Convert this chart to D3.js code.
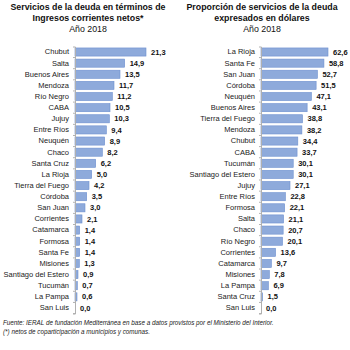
<!DOCTYPE html>
<html>
<head>
<meta charset="utf-8">
<script src="https://cdn.jsdelivr.net/npm/d3@7"></script>
<style>
  body { margin: 0; background: #fff; }
  svg { display: block; font-family: "Liberation Sans", Arial, sans-serif; }
</style>
</head>
<body>
<svg id="chart" width="350" height="350"></svg>
<script>
// left panel: servicios de la deuda / ingresos corrientes netos
const leftCategories = ["Chubut", "Salta", "Buenos Aires", "Mendoza", "Río Negro", "CABA", "Jujuy",
  "Entre Ríos", "Neuquén", "Chaco", "Santa Cruz", "La Rioja", "Tierra del Fuego", "Córdoba",
  "San Juan", "Corrientes", "Catamarca", "Formosa", "Santa Fe", "Misiones", "Santiago del Estero",
  "Tucumán", "La Pampa", "San Luis"];
const leftValues = [21.3, 14.9, 13.5, 11.7, 11.2, 10.5, 10.3, 9.4, 8.9, 8.2, 6.2, 5.0, 4.2, 3.5,
  3.0, 2.1, 1.4, 1.4, 1.4, 1.3, 0.9, 0.7, 0.6, 0.0];

// right panel: proporción en dólares
const rightCategories = ["La Rioja", "Santa Fe", "San Juan", "Córdoba", "Neuquén", "Buenos Aires",
  "Tierra del Fuego", "Mendoza", "Chubut", "CABA", "Tucumán", "Santiago del Estero", "Jujuy",
  "Entre Ríos", "Formosa", "Salta", "Chaco", "Río Negro", "Corrientes", "Catamarca", "Misiones",
  "La Pampa", "Santa Cruz", "San Luis"];
const rightValues = [62.6, 58.8, 52.7, 51.5, 47.1, 43.1, 38.8, 38.2, 34.4, 33.7, 30.1, 30.1, 27.1,
  22.8, 22.1, 21.1, 20.7, 20.1, 13.6, 9.7, 7.8, 6.9, 1.5, 0.0];

const leftTitle = ["Servicios de la deuda en términos de", "Ingresos corrientes netos*"];
const rightTitle = ["Proporción de servicios de la deuda", "expresados en dólares"];
const subTitle = "Año 2018";
const footnotes = [
  "Fuente: IERAL de fundación Mediterránea en base a datos provistos por el Ministerio del Interior.",
  "(*) netos de coparticipación a municipios y comunas."
];

const svg = d3.select("#chart");
const fmt = v => d3.format(".1f")(v).replace(".", ",");

function panel(opts) {
  const g = svg.append("g");

  const y = d3.scaleBand()
    .domain(opts.categories)
    .range([46.5, 313.5])
    .paddingInner(0.27)
    .paddingOuter(0.13);

  const x = d3.scaleLinear()
    .domain([0, opts.max])
    .range([opts.x0, opts.x1]);

  // titles
  opts.title.forEach((t, i) => {
    g.append("text")
      .attr("x", opts.cx)
      .attr("y", 10 + i * 10.5)
      .attr("text-anchor", "middle")
      .style("font-size", "8.8px")
      .style("font-weight", "bold")
      .attr("fill", "#111")
      .text(t);
  });
  g.append("text")
    .attr("x", opts.cx)
    .attr("y", 31.5)
    .attr("text-anchor", "middle")
    .style("font-size", "8.8px")
    .attr("fill", "#111")
    .text(subTitle);

  const data = opts.categories.map((c, i) => ({ cat: c, value: opts.values[i] }));

  g.selectAll("rect.bar")
    .data(data)
    .enter().append("rect")
    .attr("class", "bar")
    .attr("x", x(0))
    .attr("y", d => y(d.cat))
    .attr("width", d => x(d.value) - x(0))
    .attr("height", y.bandwidth())
    .attr("fill", "#8eaadb")
    .attr("stroke", "#6d8fcf")
    .attr("stroke-width", 0.6);

  // axis
  const axis = d3.axisLeft(y).tickSize(2).tickPadding(4);
  const ag = g.append("g")
    .attr("transform", `translate(${x(0)},0)`)
    .call(axis);
  ag.select(".domain").attr("stroke", "#b0b0b0");
  ag.selectAll(".tick line").attr("stroke", "#b0b0b0")
    .attr("transform", `translate(0,${y.step() / 2})`);
  ag.selectAll(".tick text")
    .style("font-size", "7.5px")
    .attr("fill", "#222")
    .attr("x", -6);

  g.selectAll("text.val")
    .data(data)
    .enter().append("text")
    .attr("class", "val")
    .attr("x", d => x(d.value) + 5)
    .attr("y", d => y(d.cat) + y.bandwidth() / 2)
    .attr("dy", "0.35em")
    .style("font-size", "7.5px")
    .style("font-weight", "bold")
    .attr("fill", "#111")
    .text(d => fmt(d.value));
}

panel({ categories: leftCategories, values: leftValues, title: leftTitle,
  max: 21.3, x0: 75, x1: 146, cx: 88 });
panel({ categories: rightCategories, values: rightValues, title: rightTitle,
  max: 62.6, x0: 261, x1: 328, cx: 262 });

footnotes.forEach((t, i) => {
  svg.append("text")
    .attr("x", 3)
    .attr("y", 325 + i * 9)
    .style("font-size", "6.3px")
    .style("font-style", "italic")
    .attr("fill", "#222")
    .text(t);
});
</script>
</body>
</html>
